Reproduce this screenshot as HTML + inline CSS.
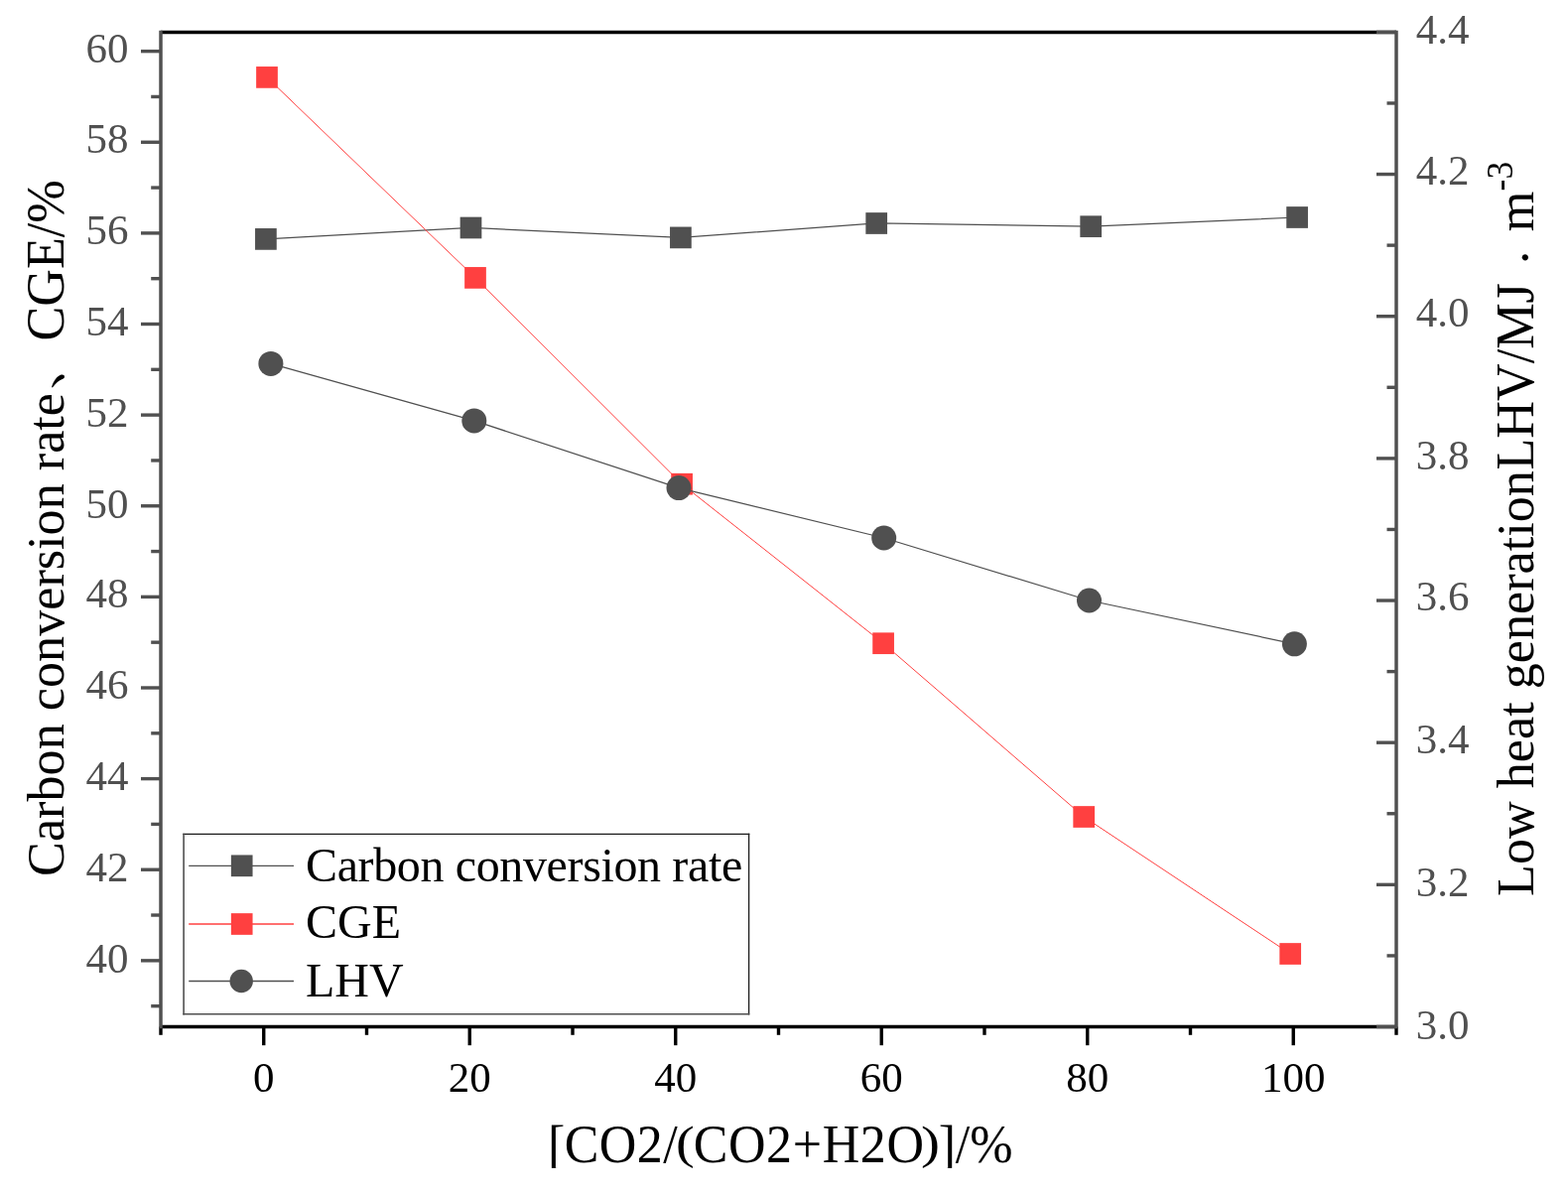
<!DOCTYPE html>
<html><head><meta charset="utf-8"><title>chart</title>
<style>html,body{margin:0;padding:0;background:#fff;width:1580px;height:1203px;overflow:hidden}
svg{display:block} text{font-family:'Liberation Serif','Times New Roman',serif}</style></head>
<body><svg width="1580" height="1203" viewBox="0 0 1580 1203">
<rect x="0" y="0" width="1580" height="1203" fill="#fff"/>
<line x1="162.0" y1="32.4" x2="1407.0" y2="32.4" stroke="#000" stroke-width="3.5"/>
<line x1="162.0" y1="1034.5" x2="1407.0" y2="1034.5" stroke="#000" stroke-width="3.5"/>
<line x1="162.00" y1="1034.5" x2="162.00" y2="1042.8" stroke="#000" stroke-width="3.4"/>
<line x1="265.75" y1="1034.5" x2="265.75" y2="1053.2" stroke="#000" stroke-width="3.4"/>
<line x1="369.50" y1="1034.5" x2="369.50" y2="1042.8" stroke="#000" stroke-width="3.4"/>
<line x1="473.25" y1="1034.5" x2="473.25" y2="1053.2" stroke="#000" stroke-width="3.4"/>
<line x1="577.00" y1="1034.5" x2="577.00" y2="1042.8" stroke="#000" stroke-width="3.4"/>
<line x1="680.75" y1="1034.5" x2="680.75" y2="1053.2" stroke="#000" stroke-width="3.4"/>
<line x1="784.50" y1="1034.5" x2="784.50" y2="1042.8" stroke="#000" stroke-width="3.4"/>
<line x1="888.25" y1="1034.5" x2="888.25" y2="1053.2" stroke="#000" stroke-width="3.4"/>
<line x1="992.00" y1="1034.5" x2="992.00" y2="1042.8" stroke="#000" stroke-width="3.4"/>
<line x1="1095.75" y1="1034.5" x2="1095.75" y2="1053.2" stroke="#000" stroke-width="3.4"/>
<line x1="1199.50" y1="1034.5" x2="1199.50" y2="1042.8" stroke="#000" stroke-width="3.4"/>
<line x1="1303.25" y1="1034.5" x2="1303.25" y2="1053.2" stroke="#000" stroke-width="3.4"/>
<line x1="1407.00" y1="1034.5" x2="1407.00" y2="1042.8" stroke="#000" stroke-width="3.4"/>
<line x1="162.0" y1="30.65" x2="162.0" y2="1036.25" stroke="#505050" stroke-width="3.5"/>
<line x1="142" y1="51.65" x2="162.0" y2="51.65" stroke="#505050" stroke-width="3.4"/>
<line x1="152.2" y1="97.46" x2="162.0" y2="97.46" stroke="#505050" stroke-width="3.4"/>
<line x1="142" y1="143.27" x2="162.0" y2="143.27" stroke="#505050" stroke-width="3.4"/>
<line x1="152.2" y1="189.08" x2="162.0" y2="189.08" stroke="#505050" stroke-width="3.4"/>
<line x1="142" y1="234.89" x2="162.0" y2="234.89" stroke="#505050" stroke-width="3.4"/>
<line x1="152.2" y1="280.70" x2="162.0" y2="280.70" stroke="#505050" stroke-width="3.4"/>
<line x1="142" y1="326.51" x2="162.0" y2="326.51" stroke="#505050" stroke-width="3.4"/>
<line x1="152.2" y1="372.32" x2="162.0" y2="372.32" stroke="#505050" stroke-width="3.4"/>
<line x1="142" y1="418.13" x2="162.0" y2="418.13" stroke="#505050" stroke-width="3.4"/>
<line x1="152.2" y1="463.94" x2="162.0" y2="463.94" stroke="#505050" stroke-width="3.4"/>
<line x1="142" y1="509.75" x2="162.0" y2="509.75" stroke="#505050" stroke-width="3.4"/>
<line x1="152.2" y1="555.56" x2="162.0" y2="555.56" stroke="#505050" stroke-width="3.4"/>
<line x1="142" y1="601.37" x2="162.0" y2="601.37" stroke="#505050" stroke-width="3.4"/>
<line x1="152.2" y1="647.18" x2="162.0" y2="647.18" stroke="#505050" stroke-width="3.4"/>
<line x1="142" y1="692.99" x2="162.0" y2="692.99" stroke="#505050" stroke-width="3.4"/>
<line x1="152.2" y1="738.80" x2="162.0" y2="738.80" stroke="#505050" stroke-width="3.4"/>
<line x1="142" y1="784.61" x2="162.0" y2="784.61" stroke="#505050" stroke-width="3.4"/>
<line x1="152.2" y1="830.42" x2="162.0" y2="830.42" stroke="#505050" stroke-width="3.4"/>
<line x1="142" y1="876.23" x2="162.0" y2="876.23" stroke="#505050" stroke-width="3.4"/>
<line x1="152.2" y1="922.04" x2="162.0" y2="922.04" stroke="#505050" stroke-width="3.4"/>
<line x1="142" y1="967.85" x2="162.0" y2="967.85" stroke="#505050" stroke-width="3.4"/>
<line x1="152.2" y1="1013.66" x2="162.0" y2="1013.66" stroke="#505050" stroke-width="3.4"/>
<line x1="1407.0" y1="30.65" x2="1407.0" y2="1036.25" stroke="#505050" stroke-width="3.5"/>
<line x1="1387" y1="32.40" x2="1407.0" y2="32.40" stroke="#505050" stroke-width="3.4"/>
<line x1="1397.5" y1="103.98" x2="1407.0" y2="103.98" stroke="#505050" stroke-width="3.4"/>
<line x1="1387" y1="175.56" x2="1407.0" y2="175.56" stroke="#505050" stroke-width="3.4"/>
<line x1="1397.5" y1="247.14" x2="1407.0" y2="247.14" stroke="#505050" stroke-width="3.4"/>
<line x1="1387" y1="318.71" x2="1407.0" y2="318.71" stroke="#505050" stroke-width="3.4"/>
<line x1="1397.5" y1="390.29" x2="1407.0" y2="390.29" stroke="#505050" stroke-width="3.4"/>
<line x1="1387" y1="461.87" x2="1407.0" y2="461.87" stroke="#505050" stroke-width="3.4"/>
<line x1="1397.5" y1="533.45" x2="1407.0" y2="533.45" stroke="#505050" stroke-width="3.4"/>
<line x1="1387" y1="605.03" x2="1407.0" y2="605.03" stroke="#505050" stroke-width="3.4"/>
<line x1="1397.5" y1="676.61" x2="1407.0" y2="676.61" stroke="#505050" stroke-width="3.4"/>
<line x1="1387" y1="748.19" x2="1407.0" y2="748.19" stroke="#505050" stroke-width="3.4"/>
<line x1="1397.5" y1="819.76" x2="1407.0" y2="819.76" stroke="#505050" stroke-width="3.4"/>
<line x1="1387" y1="891.34" x2="1407.0" y2="891.34" stroke="#505050" stroke-width="3.4"/>
<line x1="1397.5" y1="962.92" x2="1407.0" y2="962.92" stroke="#505050" stroke-width="3.4"/>
<line x1="1387" y1="1034.50" x2="1407.0" y2="1034.50" stroke="#505050" stroke-width="3.4"/>
<text x="129.5" y="979.70" font-size="43" fill="#505050" text-anchor="end">40</text>
<text x="129.5" y="888.10" font-size="43" fill="#505050" text-anchor="end">42</text>
<text x="129.5" y="796.30" font-size="43" fill="#505050" text-anchor="end">44</text>
<text x="129.5" y="704.00" font-size="43" fill="#505050" text-anchor="end">46</text>
<text x="129.5" y="612.10" font-size="43" fill="#505050" text-anchor="end">48</text>
<text x="129.5" y="521.70" font-size="43" fill="#505050" text-anchor="end">50</text>
<text x="129.5" y="429.60" font-size="43" fill="#505050" text-anchor="end">52</text>
<text x="129.5" y="338.10" font-size="43" fill="#505050" text-anchor="end">54</text>
<text x="129.5" y="246.40" font-size="43" fill="#505050" text-anchor="end">56</text>
<text x="129.5" y="154.00" font-size="43" fill="#505050" text-anchor="end">58</text>
<text x="129.5" y="62.70" font-size="43" fill="#505050" text-anchor="end">60</text>
<text x="1426.8" y="44.30" font-size="43" fill="#505050">4.4</text>
<text x="1426.8" y="185.90" font-size="43" fill="#505050">4.2</text>
<text x="1426.8" y="329.30" font-size="43" fill="#505050">4.0</text>
<text x="1426.8" y="473.40" font-size="43" fill="#505050">3.8</text>
<text x="1426.8" y="615.40" font-size="43" fill="#505050">3.6</text>
<text x="1426.8" y="759.30" font-size="43" fill="#505050">3.4</text>
<text x="1426.8" y="903.30" font-size="43" fill="#505050">3.2</text>
<text x="1426.8" y="1046.80" font-size="43" fill="#505050">3.0</text>
<text x="265.75" y="1099.6" font-size="43" fill="#000" text-anchor="middle">0</text>
<text x="473.25" y="1099.6" font-size="43" fill="#000" text-anchor="middle">20</text>
<text x="680.75" y="1099.6" font-size="43" fill="#000" text-anchor="middle">40</text>
<text x="888.25" y="1099.6" font-size="43" fill="#000" text-anchor="middle">60</text>
<text x="1095.75" y="1099.6" font-size="43" fill="#000" text-anchor="middle">80</text>
<text x="1303.25" y="1099.6" font-size="43" fill="#000" text-anchor="middle">100</text>
<polyline points="267.9,240.9 474.5,229.5 685.9,239.4 883.2,225.0 1099.2,228.2 1307.1,219.0" fill="none" stroke="#505050" stroke-width="1.25" shape-rendering="auto"/>
<rect x="257.05" y="230.05" width="21.7" height="21.7" fill="#505050"/>
<rect x="463.65" y="218.65" width="21.7" height="21.7" fill="#505050"/>
<rect x="675.05" y="228.55" width="21.7" height="21.7" fill="#505050"/>
<rect x="872.35" y="214.15" width="21.7" height="21.7" fill="#505050"/>
<rect x="1088.35" y="217.35" width="21.7" height="21.7" fill="#505050"/>
<rect x="1296.25" y="208.15" width="21.7" height="21.7" fill="#505050"/>
<polyline points="269.0,77.9 479.0,279.9 687.1,487.7 890.1,648.2 1092.2,823.0 1300.2,961.0" fill="none" stroke="#ff4040" stroke-width="1.0" shape-rendering="auto"/>
<rect x="258.15" y="67.05" width="21.7" height="21.7" fill="#ff4040"/>
<rect x="468.15" y="269.05" width="21.7" height="21.7" fill="#ff4040"/>
<rect x="676.25" y="476.85" width="21.7" height="21.7" fill="#ff4040"/>
<rect x="879.25" y="637.35" width="21.7" height="21.7" fill="#ff4040"/>
<rect x="1081.35" y="812.15" width="21.7" height="21.7" fill="#ff4040"/>
<rect x="1289.35" y="950.15" width="21.7" height="21.7" fill="#ff4040"/>
<polyline points="272.9,366.4 477.8,423.9 684.0,491.6 890.7,542.0 1097.5,605.0 1304.4,648.8" fill="none" stroke="#505050" stroke-width="1.25" shape-rendering="auto"/>
<circle cx="272.9" cy="366.4" r="12.5" fill="#505050"/>
<circle cx="477.8" cy="423.9" r="12.5" fill="#505050"/>
<circle cx="684.0" cy="491.6" r="12.5" fill="#505050"/>
<circle cx="890.7" cy="542.0" r="12.5" fill="#505050"/>
<circle cx="1097.5" cy="605.0" r="12.5" fill="#505050"/>
<circle cx="1304.4" cy="648.8" r="12.5" fill="#505050"/>
<rect x="185" y="840.4" width="569.6" height="181.4" fill="#fff"/>
<line x1="184.3" y1="840.4" x2="755.3" y2="840.4" stroke="#1a1a1a" stroke-width="1.4"/>
<line x1="185.1" y1="839.7" x2="185.1" y2="1022.5" stroke="#505050" stroke-width="1.6"/>
<line x1="754.6" y1="839.7" x2="754.6" y2="1022.5" stroke="#222" stroke-width="1.4"/>
<line x1="184.3" y1="1021.8" x2="755.3" y2="1021.8" stroke="#505050" stroke-width="1.5"/>
<line x1="190.2" y1="872.3" x2="296" y2="872.3" stroke="#505050" stroke-width="1.3"/>
<rect x="232.85" y="861.45" width="21.7" height="21.7" fill="#505050"/>
<text x="308.0" y="887.9" font-size="48" fill="#000" textLength="440.2" lengthAdjust="spacing">Carbon conversion rate</text>
<line x1="190.2" y1="931.0" x2="296" y2="931.0" stroke="#ff4040" stroke-width="1.3"/>
<rect x="232.85" y="920.15" width="21.7" height="21.7" fill="#ff4040"/>
<text x="308.0" y="945.1" font-size="48" fill="#000">CGE</text>
<line x1="190.2" y1="988.5" x2="296" y2="988.5" stroke="#505050" stroke-width="1.3"/>
<circle cx="243.2" cy="988.5" r="11.7" fill="#505050"/>
<text x="308.0" y="1003.9" font-size="48" fill="#000">LHV</text>
<text transform="translate(64.2,882.90) rotate(-90) scale(1,1.0)" x="0" y="0" font-size="52.2" fill="#000">Carbon conversion rate</text>
<text transform="translate(64.2,392.40) rotate(-90)" x="0" y="-3.3" font-size="52.2" fill="#000" style="font-family:'Liberation Serif','Noto Serif CJK SC',serif">、</text>
<text transform="translate(64.2,343.50) rotate(-90) scale(1,1.06)" x="0" y="0" font-size="52.2" fill="#000">CGE/%</text>
<text transform="translate(1544.6,903.00) rotate(-90) scale(1,1.0)" x="0" y="0" font-size="52.2" fill="#000">Low heat generation</text>
<text transform="translate(1544.6,473.50) rotate(-90) scale(1,1.06)" x="0" y="0" font-size="52.2" fill="#000">LHV/MJ</text>
<text transform="translate(1544.6,268) rotate(-90)" x="0" y="8.9" font-size="52.2" fill="#000">·</text>
<text transform="translate(1544.6,233.30) rotate(-90) scale(1,1.0)" x="0" y="0" font-size="52.2" fill="#000">m</text>
<text transform="translate(1544.6,192.39) rotate(-90) scale(1,1.04)" x="0" y="-19.52" font-size="35.5" fill="#000">-3</text>
<text transform="translate(551.95,1170.5) scale(1,1.045)" x="0" y="1.45" font-size="52" fill="#000">[</text>
<text transform="translate(568.7,1170.5) scale(1,1.045)" x="0" y="0" font-size="52" fill="#000" textLength="114" lengthAdjust="spacing">CO2/</text>
<text transform="translate(681.1,1166.6) scale(1.085,0.901)" x="0" y="0" font-size="52" fill="#000">(</text>
<text transform="translate(698.67,1170.5) scale(1,1.045)" x="0" y="0" font-size="52" fill="#000" textLength="232.3" lengthAdjust="spacing">CO2+H2O</text>
<text transform="translate(928.07,1166.5) scale(1.1,0.911)" x="0" y="0" font-size="52" fill="#000">)</text>
<text transform="translate(945.7,1170.5) scale(1,1.045)" x="0" y="1.45" font-size="52" fill="#000">]</text>
<text transform="translate(962.7,1170.5) scale(1,1.045)" x="0" y="0" font-size="52" fill="#000">/%</text>
<rect x="554" y="1176.9" width="15" height="5" fill="#fff"/>
<rect x="946" y="1176.9" width="15" height="5" fill="#fff"/>
</svg></body></html>
